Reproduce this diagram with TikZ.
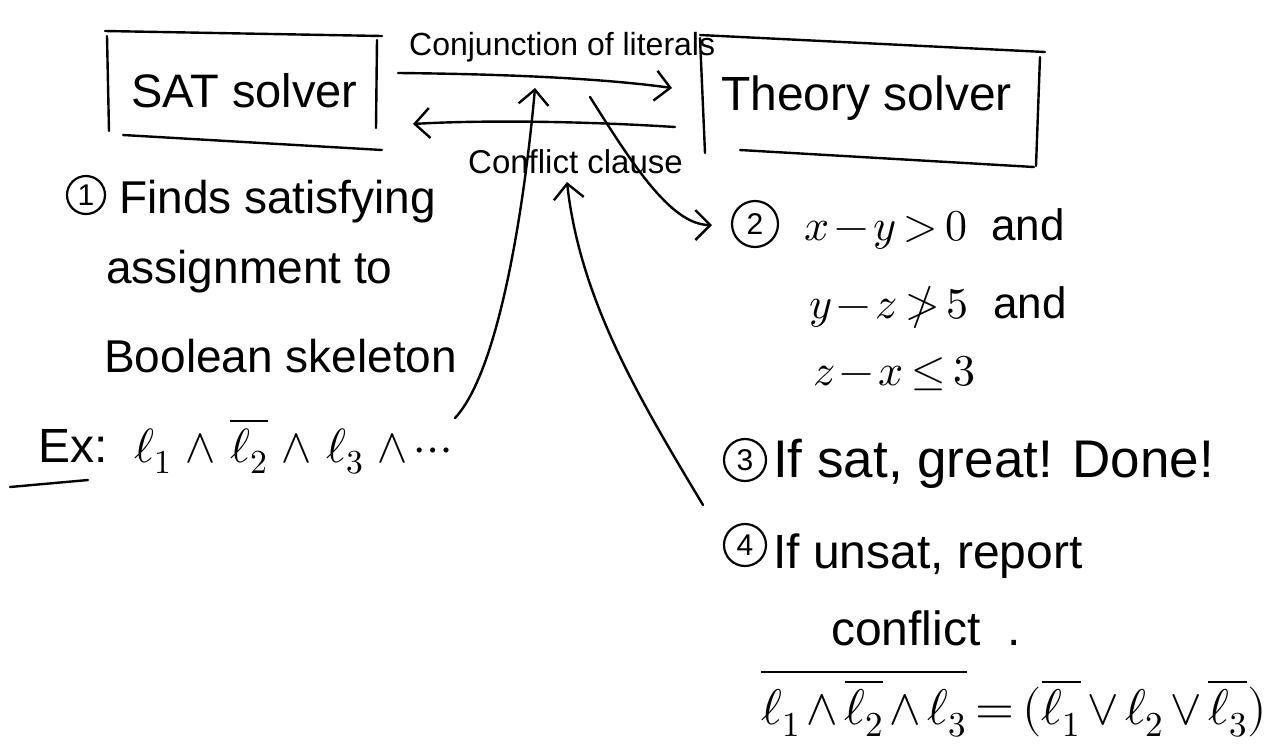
\documentclass[tikz,border=0pt]{standalone}
\usepackage{fontspec}
\usepackage{unicode-math}
\setmainfont{Liberation Sans}
\setmathfont{Latin Modern Math}
\usetikzlibrary{arrows.meta}
\begin{document}
\medmuskip=2mu plus 1mu
\thickmuskip=3mu plus 2mu
\begin{tikzpicture}[x=1pt,y=-1pt, line width=2.4pt, line cap=round, line join=round,
  hand/.style={font=\fontsize{#1}{#1}\selectfont, inner sep=0pt, anchor=base west},
  num/.style={circle, draw, line width=2.2pt, inner sep=0pt, minimum size=#1, font=\fontsize{30}{30}\selectfont},
  arr/.style={-{Straight Barb[length=15pt,width=30pt]}}]
\useasboundingbox[fill=white] (0,0) rectangle (1270,748);

% SAT solver box
\node[hand=47] (sat) at (130,107) {SAT solver};
\draw (105,31) -- (382,36);
\draw (107,36) -- (109,131);
\draw (377,40) -- (376,128);
\draw (123,135) -- (382,150);

% Theory solver box
\node[hand=48] (theory) at (720,110) {Theory solver};
\draw (700,35) -- (1045,52);
\draw (700,38) -- (705,153);
\draw (1040,57) -- (1036,166);
\draw (740,150) -- (1034,167);

% connectors between solvers
\coordinate (a1s) at (398,73);
\coordinate (a1e) at (672,88);
\draw[arr] (a1s) .. controls (500,74) and (600,78) .. (a1e);
\node[hand=32] (conj) at (408,55) {Conjunction of literals};

\coordinate (a2s) at (675,127);
\coordinate (a2e) at (413,124);
\draw[arr] (a2s) .. controls (580,121) and (480,120) .. (a2e);
\node[hand=33] (confl) at (467,173) {Conflict clause};

% step 1
\node[num=38pt] (n1) at (86,195) {1};
\node[hand=46] (l1a) at (118,213) {Finds satisfying};
\node[hand=46] (l1b) at (105,283) {assignment to};
\node[hand=46] (l1c) at (103,372) {Boolean skeleton};
\node[hand=48] (ex) at (37,462) {Ex:\ \ $\ell_1\;\wedge\;\overline{\ell_2}\;\wedge\;\ell_3\;\wedge\cdots$};
\draw (10,487) -- (88,480);

% step 2
\node[num=46pt] (n2) at (755,224) {2};
\node[hand=44] (l2a) at (803,240) {$x-y>0$\ \ and};
\node[hand=44] (l2b) at (808,318) {$y-z\ngtr 5$\ \ and};
\node[hand=44] (l2c) at (812,385) {$z-x\leq 3$};

% step 3
\node[num=42pt] (n3) at (745,460) {3};
\node[hand=53] (l3) at (772,477) {If sat, great! Done!};

% step 4
\node[num=42pt] (n4) at (745,545) {4};
\node[hand=48] (l4a) at (772,568) {If unsat, report};
\node[hand=48] (l4b) at (830,645) {conflict\ \ .};
\node[hand=50] (form) at (760,724) {$\overline{\ell_1 \wedge \overline{\ell_2} \wedge \ell_3} = (\overline{\ell_1} \vee \ell_2 \vee \overline{\ell_3})$};

% long connectors
\coordinate (a3s) at (455,418);
\coordinate (a3e) at (535,88);
\draw[arr] (a3s) .. controls (500,370) and (525,200) .. (a3e);

\coordinate (a4s) at (590,97);
\coordinate (a4e) at (712,225);
\draw[arr] (a4s) .. controls (630,160) and (670,225) .. (a4e);

\coordinate (a5s) at (703,505);
\coordinate (a5e) at (567,182);
\draw[arr] (a5s) .. controls (640,400) and (580,300) .. (a5e);
\end{tikzpicture}
\end{document}
